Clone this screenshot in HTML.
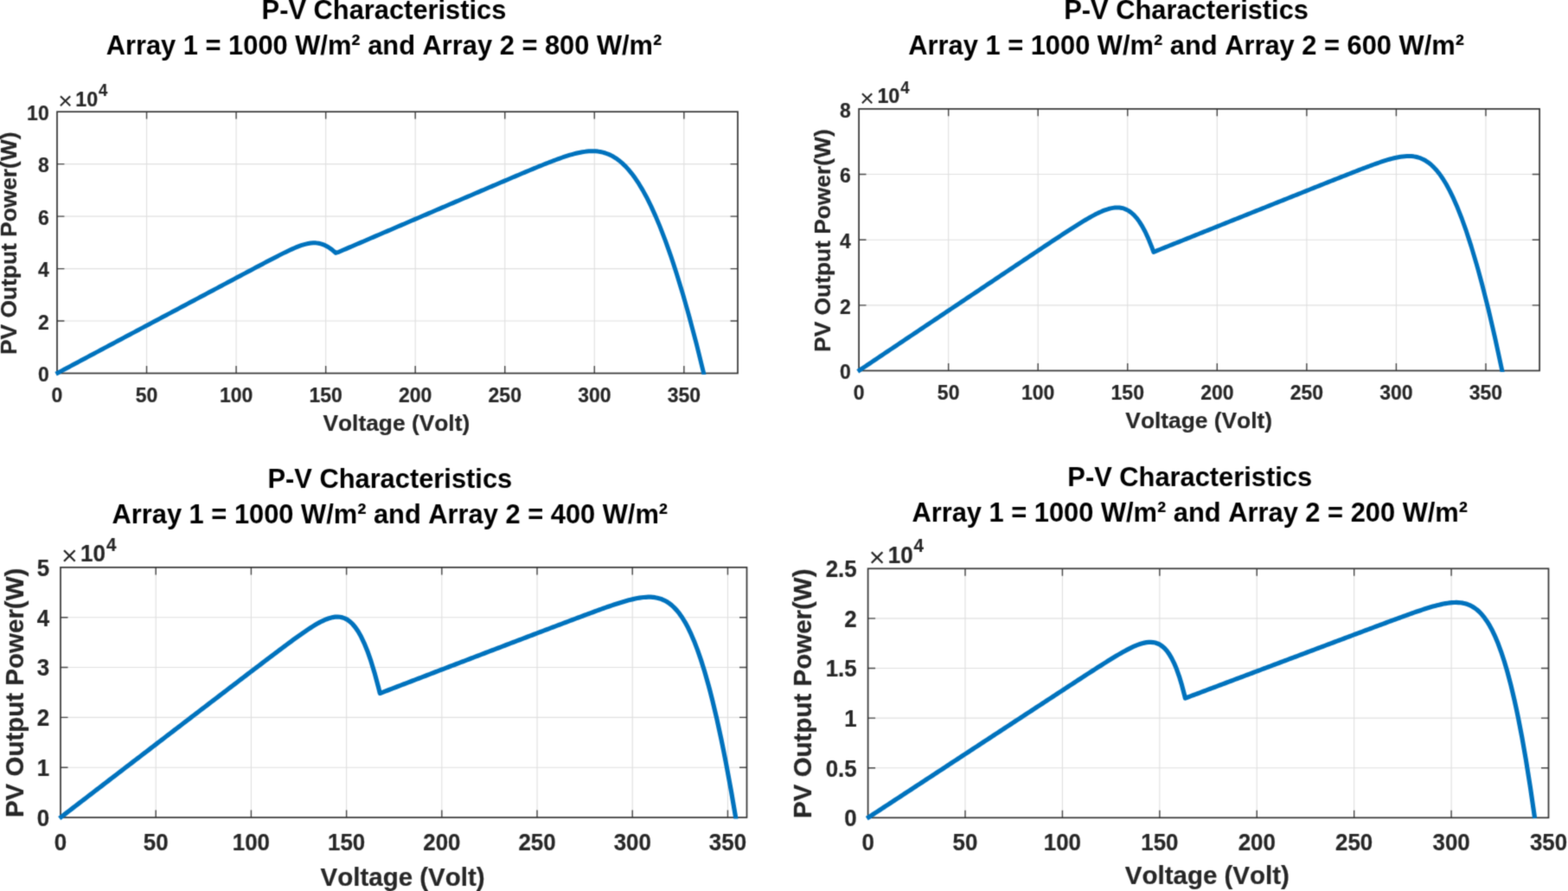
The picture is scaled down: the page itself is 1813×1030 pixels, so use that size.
<!DOCTYPE html>
<html lang="en">
<head>
<meta charset="utf-8">
<title>P-V Characteristics under partial shading</title>
<style>
html,body{margin:0;padding:0;background:#fff;}
body{width:1813px;height:1030px;overflow:hidden;}
svg{display:block;}
text{font-family:"Liberation Sans", sans-serif;font-kerning:none;fill:#262626;}
.tt{font-size:30.85px;font-weight:bold;fill:#000;}
.gr{stroke:#dfdfdf;stroke-width:1.1;fill:none;}
.ax{stroke:#333333;stroke-width:1.7;fill:none;}
.tc{stroke:#444444;stroke-width:1.4;fill:none;}
.cv{stroke:#0072bd;fill:none;stroke-linejoin:round;stroke-linecap:butt;}
#plot1 .tk{font-size:23px;font-weight:bold;}
.tk,.lb,.ex,.sp{stroke:#262626;stroke-width:0.2;stroke-linejoin:round;}
#plot1 .lb{font-size:26.35px;font-weight:bold;}
#plot1 .ex{font-size:23.3px;font-weight:bold;}
#plot1 .sp{font-size:18.5px;font-weight:bold;}
#plot1 .tm{font-size:28.5px;}
#plot1 .cv{stroke-width:5;}
#plot2 .tk{font-size:23px;font-weight:bold;}
#plot2 .lb{font-size:26.35px;font-weight:bold;}
#plot2 .ex{font-size:23.3px;font-weight:bold;}
#plot2 .sp{font-size:18.5px;font-weight:bold;}
#plot2 .tm{font-size:28.5px;}
#plot2 .cv{stroke-width:5;}
#plot3 .tk{font-size:25.9px;font-weight:bold;}
#plot3 .lb{font-size:29.5px;font-weight:bold;}
#plot3 .ex{font-size:26px;font-weight:bold;}
#plot3 .sp{font-size:20.6px;font-weight:bold;}
#plot3 .tm{font-size:32px;}
#plot3 .cv{stroke-width:5.2;}
#plot4 .tk{font-size:25.9px;font-weight:bold;}
#plot4 .lb{font-size:29.5px;font-weight:bold;}
#plot4 .ex{font-size:26px;font-weight:bold;}
#plot4 .sp{font-size:20.6px;font-weight:bold;}
#plot4 .tm{font-size:32px;}
#plot4 .cv{stroke-width:5.2;}
</style>
</head>
<body>
<svg width="1813" height="1030" viewBox="0 0 1813 1030">
<defs><filter id="soft" x="0" y="0" width="1813" height="1030" filterUnits="userSpaceOnUse" color-interpolation-filters="sRGB"><feConvolveMatrix order="3" kernelMatrix="0.0289 0.1122 0.0289 0.1122 0.4356 0.1122 0.0289 0.1122 0.0289" edgeMode="duplicate" preserveAlpha="false"/></filter></defs>
<rect x="0" y="0" width="1813" height="1030" fill="#ffffff"/>
<g filter="url(#soft)">
<g id="plot1">
<text class="tt" text-anchor="middle" transform="translate(444 21.6) scale(1 1.03)">P-V Characteristics</text>
<text class="tt" text-anchor="middle" transform="translate(444 62.8) scale(1 1.03)">Array 1 = 1000 W/m² and Array 2 = 800 W/m²</text>
<path class="gr" d="M169.55 129.2 V431.5 M273.11 129.2 V431.5 M376.66 129.2 V431.5 M480.21 129.2 V431.5 M583.76 129.2 V431.5 M687.32 129.2 V431.5 M790.87 129.2 V431.5 M66 371.04 H853 M66 310.58 H853 M66 250.12 H853 M66 189.66 H853"/>
<clipPath id="cp1"><rect x="60" y="129.2" width="793" height="303.7"/><rect x="60" y="426.5" width="14" height="10"/></clipPath>
<path class="tc" d="M169.55 431.5 v-8.4 M169.55 129.2 v8.4 M273.11 431.5 v-8.4 M273.11 129.2 v8.4 M376.66 431.5 v-8.4 M376.66 129.2 v8.4 M480.21 431.5 v-8.4 M480.21 129.2 v8.4 M583.76 431.5 v-8.4 M583.76 129.2 v8.4 M687.32 431.5 v-8.4 M687.32 129.2 v8.4 M790.87 431.5 v-8.4 M790.87 129.2 v8.4 M66 371.04 h8.4 M853 371.04 h-8.4 M66 310.58 h8.4 M853 310.58 h-8.4 M66 250.12 h8.4 M853 250.12 h-8.4 M66 189.66 h8.4 M853 189.66 h-8.4"/>
<rect class="ax" x="66" y="129.2" width="787" height="302.3"/>
<path class="cv" clip-path="url(#cp1)" d="M64.59 432.25 L66.99 430.97 L69.45 429.66 L71.9 428.35 L74.36 427.04 L76.82 425.73 L79.28 424.42 L81.74 423.12 L84.2 421.81 L86.66 420.5 L89.12 419.19 L91.58 417.88 L94.03 416.57 L96.49 415.26 L98.95 413.95 L101.41 412.64 L103.87 411.33 L106.33 410.02 L108.79 408.71 L111.25 407.4 L113.71 406.09 L116.16 404.78 L118.62 403.47 L121.08 402.16 L123.54 400.85 L126 399.55 L128.46 398.24 L130.92 396.93 L133.38 395.62 L135.84 394.31 L138.29 393 L140.75 391.69 L143.21 390.38 L145.67 389.07 L148.13 387.76 L150.59 386.46 L153.05 385.15 L155.51 383.84 L157.97 382.53 L160.42 381.22 L162.88 379.91 L165.34 378.6 L167.8 377.3 L170.26 375.99 L172.72 374.68 L175.18 373.37 L177.64 372.06 L180.1 370.75 L182.56 369.45 L185.01 368.14 L187.47 366.83 L189.93 365.52 L192.39 364.21 L194.85 362.9 L197.31 361.6 L199.77 360.29 L202.23 358.98 L204.69 357.67 L207.14 356.36 L209.6 355.06 L212.06 353.75 L214.52 352.44 L216.98 351.13 L219.44 349.83 L221.9 348.52 L224.36 347.21 L226.82 345.9 L229.27 344.6 L231.73 343.29 L234.19 341.98 L236.65 340.67 L239.11 339.37 L241.57 338.06 L244.03 336.75 L246.49 335.44 L248.95 334.14 L251.4 332.83 L253.86 331.52 L256.32 330.22 L258.78 328.91 L261.24 327.6 L263.7 326.29 L266.16 324.99 L268.62 323.68 L271.08 322.37 L273.54 321.07 L276 319.76 L278.46 318.46 L280.91 317.15 L283.37 315.84 L285.83 314.54 L288.29 313.23 L290.75 311.93 L293.22 310.63 L295.68 309.32 L298.14 308.02 L300.6 306.72 L303.06 305.42 L305.53 304.12 L307.99 302.83 L310.46 301.53 L312.93 300.24 L315.4 298.96 L317.87 297.67 L320.35 296.4 L322.83 295.13 L325.31 293.88 L327.8 292.63 L330.3 291.4 L332.81 290.19 L335.33 289 L337.87 287.85 L340.42 286.72 L342.99 285.65 L345.59 284.63 L348.23 283.68 L350.9 282.82 L353.62 282.07 L356.41 281.46 L359.27 281.03 L362.22 280.81 L365.29 280.86 L368.5 281.25 L371.89 282.07 L375.49 283.43 L379.36 285.48 L383.56 288.39 L388.16 292.4 L390.69 291.71 L392.94 290.75 L395.19 289.78 L397.43 288.82 L399.68 287.85 L401.92 286.89 L404.17 285.92 L406.42 284.96 L408.66 283.99 L410.91 283.03 L413.16 282.07 L415.4 281.1 L417.65 280.14 L419.89 279.17 L422.14 278.21 L424.39 277.24 L426.63 276.28 L428.88 275.32 L431.12 274.35 L433.37 273.39 L435.62 272.42 L437.86 271.46 L440.11 270.49 L442.35 269.53 L444.6 268.57 L446.85 267.6 L449.09 266.64 L451.34 265.68 L453.59 264.71 L455.83 263.75 L458.08 262.78 L460.32 261.82 L462.57 260.86 L464.82 259.89 L467.06 258.93 L469.31 257.96 L471.55 257 L473.8 256.04 L476.05 255.07 L478.29 254.11 L480.54 253.15 L482.79 252.18 L485.03 251.22 L487.28 250.26 L489.52 249.29 L491.77 248.33 L494.02 247.37 L496.26 246.4 L498.51 245.44 L500.75 244.48 L503 243.51 L505.25 242.55 L507.49 241.59 L509.74 240.62 L511.98 239.66 L514.23 238.7 L516.48 237.74 L518.72 236.77 L520.97 235.81 L523.22 234.85 L525.46 233.88 L527.71 232.92 L529.95 231.96 L532.2 231 L534.45 230.03 L536.69 229.07 L538.94 228.11 L541.19 227.15 L543.43 226.19 L545.68 225.22 L547.93 224.26 L550.17 223.3 L552.42 222.34 L554.66 221.38 L556.91 220.41 L559.16 219.45 L561.4 218.49 L563.65 217.53 L565.9 216.57 L568.15 215.61 L570.39 214.65 L572.64 213.69 L574.89 212.73 L577.14 211.77 L579.38 210.81 L581.63 209.85 L583.88 208.89 L586.13 207.94 L588.38 206.98 L590.63 206.02 L592.88 205.07 L595.13 204.12 L597.38 203.16 L599.63 202.21 L601.88 201.26 L604.13 200.31 L606.38 199.36 L608.64 198.42 L610.89 197.47 L613.15 196.53 L615.41 195.59 L617.67 194.66 L619.93 193.73 L622.19 192.8 L624.45 191.87 L626.72 190.96 L628.99 190.04 L631.26 189.14 L633.54 188.24 L635.81 187.35 L638.1 186.46 L640.38 185.59 L642.68 184.73 L644.98 183.89 L647.28 183.06 L649.59 182.24 L651.92 181.45 L654.25 180.68 L656.59 179.93 L658.94 179.21 L661.3 178.53 L663.68 177.88 L666.08 177.27 L668.49 176.71 L670.93 176.2 L673.39 175.75 L675.87 175.37 L678.39 175.06 L680.93 174.84 L683.51 174.72 L686.13 174.72 L688.79 174.84 L691.51 175.11 L694.1 175.51 L697.1 176.16 L699.99 176.99 L702.96 178.06 L706.01 179.41 L709.14 181.07 L712.38 183.09 L715.59 185.41 L719.18 188.4 L722.77 191.82 L726.51 195.84 L730.4 200.55 L732.07 202.74 L734.46 206.05 L738.71 212.44 L743.17 219.86 L747.22 227.24 L747.86 228.45 L752.8 238.39 L758.01 249.87 L762.33 260.12 L763.54 263.11 L769.4 278.37 L775.64 295.96 L778.14 303.39 L782.29 316.23 L789.41 339.57 L795.21 359.84 L797.04 366.48 L805.25 397.48 L814.1 433.24"/>
<text class="tk" text-anchor="middle" transform="translate(66 465) scale(1 1.06)">0</text>
<text class="tk" text-anchor="middle" transform="translate(169.55 465) scale(1 1.06)">50</text>
<text class="tk" text-anchor="middle" transform="translate(273.11 465) scale(1 1.06)">100</text>
<text class="tk" text-anchor="middle" transform="translate(376.66 465) scale(1 1.06)">150</text>
<text class="tk" text-anchor="middle" transform="translate(480.21 465) scale(1 1.06)">200</text>
<text class="tk" text-anchor="middle" transform="translate(583.76 465) scale(1 1.06)">250</text>
<text class="tk" text-anchor="middle" transform="translate(687.32 465) scale(1 1.06)">300</text>
<text class="tk" text-anchor="middle" transform="translate(790.87 465) scale(1 1.06)">350</text>
<text class="tk" text-anchor="end" transform="translate(56.7 441.3) scale(1 1.06)">0</text>
<text class="tk" text-anchor="end" transform="translate(56.7 380.84) scale(1 1.06)">2</text>
<text class="tk" text-anchor="end" transform="translate(56.7 320.38) scale(1 1.06)">4</text>
<text class="tk" text-anchor="end" transform="translate(56.7 259.92) scale(1 1.06)">6</text>
<text class="tk" text-anchor="end" transform="translate(56.7 199.46) scale(1 1.06)">8</text>
<text class="tk" text-anchor="end" transform="translate(56.7 139) scale(1 1.06)">10</text>
<text class="tm" transform="translate(67.2 126)">×</text>
<text class="ex" transform="translate(87.3 122.6) scale(1 1.05)">10</text>
<text class="sp" transform="translate(114.1 111) scale(1 1.05)">4</text>
<text class="lb" text-anchor="middle" transform="translate(458.3 497.8)">Voltage (Volt)</text>
<text class="lb" text-anchor="middle" transform="translate(19.2 281.25) rotate(-90)">PV Output Power(W)</text>
</g>
<g id="plot2">
<text class="tt" text-anchor="middle" transform="translate(1371.6 21.6) scale(1 1.03)">P-V Characteristics</text>
<text class="tt" text-anchor="middle" transform="translate(1371.6 62.8) scale(1 1.03)">Array 1 = 1000 W/m² and Array 2 = 600 W/m²</text>
<path class="gr" d="M1096.65 125.9 V428.5 M1200.21 125.9 V428.5 M1303.76 125.9 V428.5 M1407.31 125.9 V428.5 M1510.86 125.9 V428.5 M1614.42 125.9 V428.5 M1717.97 125.9 V428.5 M993.1 352.85 H1780.1 M993.1 277.2 H1780.1 M993.1 201.55 H1780.1"/>
<clipPath id="cp2"><rect x="987.1" y="125.9" width="793" height="304"/><rect x="987.1" y="423.5" width="14" height="10"/></clipPath>
<path class="tc" d="M1096.65 428.5 v-8.4 M1096.65 125.9 v8.4 M1200.21 428.5 v-8.4 M1200.21 125.9 v8.4 M1303.76 428.5 v-8.4 M1303.76 125.9 v8.4 M1407.31 428.5 v-8.4 M1407.31 125.9 v8.4 M1510.86 428.5 v-8.4 M1510.86 125.9 v8.4 M1614.42 428.5 v-8.4 M1614.42 125.9 v8.4 M1717.97 428.5 v-8.4 M1717.97 125.9 v8.4 M993.1 352.85 h8.4 M1780.1 352.85 h-8.4 M993.1 277.2 h8.4 M1780.1 277.2 h-8.4 M993.1 201.55 h8.4 M1780.1 201.55 h-8.4"/>
<rect class="ax" x="993.1" y="125.9" width="787" height="302.6"/>
<path class="cv" clip-path="url(#cp2)" d="M991.77 429.39 L993.93 427.94 L996.28 426.36 L998.64 424.79 L1000.99 423.21 L1003.34 421.63 L1005.69 420.06 L1008.04 418.48 L1010.39 416.9 L1012.74 415.33 L1015.09 413.75 L1017.44 412.17 L1019.79 410.6 L1022.14 409.02 L1024.49 407.45 L1026.84 405.87 L1029.2 404.29 L1031.55 402.72 L1033.9 401.14 L1036.25 399.57 L1038.6 397.99 L1040.95 396.41 L1043.3 394.84 L1045.65 393.26 L1048 391.69 L1050.35 390.11 L1052.7 388.53 L1055.05 386.96 L1057.41 385.38 L1059.76 383.81 L1062.11 382.23 L1064.46 380.66 L1066.81 379.08 L1069.16 377.51 L1071.51 375.93 L1073.86 374.36 L1076.21 372.78 L1078.56 371.21 L1080.91 369.63 L1083.26 368.06 L1085.62 366.48 L1087.97 364.91 L1090.32 363.33 L1092.67 361.76 L1095.02 360.18 L1097.37 358.61 L1099.72 357.03 L1102.07 355.46 L1104.42 353.88 L1106.77 352.31 L1109.12 350.73 L1111.47 349.16 L1113.83 347.59 L1116.18 346.01 L1118.53 344.44 L1120.88 342.86 L1123.23 341.29 L1125.58 339.71 L1127.93 338.14 L1130.28 336.57 L1132.63 334.99 L1134.98 333.42 L1137.33 331.85 L1139.68 330.27 L1142.04 328.7 L1144.39 327.12 L1146.74 325.55 L1149.09 323.98 L1151.44 322.4 L1153.79 320.83 L1156.14 319.26 L1158.49 317.68 L1160.84 316.11 L1163.19 314.54 L1165.54 312.97 L1167.89 311.39 L1170.25 309.82 L1172.6 308.25 L1174.95 306.68 L1177.3 305.1 L1179.65 303.53 L1182 301.96 L1184.35 300.39 L1186.7 298.82 L1189.05 297.25 L1191.41 295.68 L1193.76 294.11 L1196.11 292.54 L1198.46 290.97 L1200.81 289.4 L1203.16 287.83 L1205.52 286.27 L1207.87 284.7 L1210.22 283.14 L1212.57 281.57 L1214.93 280.01 L1217.28 278.45 L1219.63 276.9 L1221.99 275.34 L1224.34 273.79 L1226.7 272.24 L1229.06 270.69 L1231.41 269.15 L1233.77 267.62 L1236.13 266.09 L1238.49 264.57 L1240.85 263.06 L1243.22 261.55 L1245.58 260.06 L1247.95 258.58 L1250.32 257.12 L1252.69 255.68 L1255.07 254.25 L1257.45 252.85 L1259.84 251.48 L1262.23 250.14 L1264.63 248.84 L1267.03 247.59 L1269.44 246.38 L1271.87 245.24 L1274.3 244.17 L1276.75 243.18 L1279.21 242.29 L1281.69 241.51 L1284.18 240.86 L1286.7 240.36 L1289.25 240.04 L1291.83 239.92 L1294.44 240.05 L1297.09 240.46 L1299.79 241.2 L1302.54 242.32 L1305.35 243.89 L1308.24 245.98 L1311.2 248.69 L1314.27 252.11 L1317.44 256.38 L1320.73 261.63 L1324.18 268.05 L1327.79 275.83 L1331.6 285.21 L1333.84 291.33 L1336.32 290.34 L1338.65 289.41 L1340.98 288.47 L1343.31 287.54 L1345.64 286.6 L1347.97 285.67 L1350.3 284.73 L1352.63 283.8 L1354.96 282.87 L1357.29 281.93 L1359.62 281 L1361.95 280.07 L1364.28 279.13 L1366.61 278.2 L1368.94 277.26 L1371.27 276.33 L1373.6 275.4 L1375.93 274.46 L1378.26 273.53 L1380.59 272.6 L1382.92 271.66 L1385.25 270.73 L1387.58 269.8 L1389.91 268.86 L1392.24 267.93 L1394.57 267 L1396.9 266.06 L1399.23 265.13 L1401.56 264.2 L1403.89 263.27 L1406.22 262.33 L1408.55 261.4 L1410.88 260.47 L1413.21 259.53 L1415.54 258.6 L1417.87 257.67 L1420.2 256.74 L1422.53 255.8 L1424.86 254.87 L1427.19 253.94 L1429.52 253.01 L1431.85 252.08 L1434.18 251.14 L1436.51 250.21 L1438.84 249.28 L1441.17 248.35 L1443.5 247.41 L1445.83 246.48 L1448.16 245.55 L1450.49 244.62 L1452.82 243.69 L1455.15 242.76 L1457.48 241.82 L1459.81 240.89 L1462.14 239.96 L1464.47 239.03 L1466.8 238.1 L1469.13 237.17 L1471.46 236.23 L1473.79 235.3 L1476.12 234.37 L1478.45 233.44 L1480.78 232.51 L1483.11 231.58 L1485.44 230.65 L1487.77 229.72 L1490.1 228.79 L1492.43 227.85 L1494.76 226.92 L1497.09 225.99 L1499.42 225.06 L1501.75 224.13 L1504.08 223.2 L1506.41 222.27 L1508.74 221.34 L1511.07 220.41 L1513.4 219.48 L1515.73 218.55 L1518.06 217.62 L1520.39 216.69 L1522.72 215.76 L1525.06 214.83 L1527.39 213.91 L1529.72 212.98 L1532.05 212.05 L1534.38 211.12 L1536.71 210.19 L1539.04 209.27 L1541.37 208.34 L1543.7 207.42 L1546.03 206.49 L1548.37 205.57 L1550.7 204.64 L1553.03 203.72 L1555.36 202.8 L1557.7 201.88 L1560.03 200.97 L1562.36 200.05 L1564.7 199.14 L1567.03 198.23 L1569.37 197.32 L1571.71 196.42 L1574.05 195.52 L1576.39 194.62 L1578.73 193.74 L1581.07 192.85 L1583.42 191.98 L1585.76 191.11 L1588.11 190.26 L1590.47 189.41 L1592.82 188.58 L1595.18 187.76 L1597.55 186.97 L1599.92 186.19 L1602.3 185.44 L1604.68 184.71 L1607.08 184.02 L1609.48 183.37 L1611.89 182.76 L1614.32 182.2 L1616.76 181.7 L1619.22 181.26 L1621.69 180.91 L1624.19 180.65 L1626.72 180.49 L1629.27 180.46 L1631.86 180.56 L1634.49 180.84 L1636.95 181.26 L1639.89 182 L1642.67 182.94 L1645.52 184.2 L1648.45 185.8 L1651.46 187.8 L1654.58 190.29 L1657.81 193.32 L1661.17 197 L1663.87 200.35 L1664.68 201.43 L1668.36 206.73 L1672.22 213.06 L1676.31 220.58 L1680.6 229.42 L1685.23 240.05 L1690.15 252.52 L1695.05 266.19 L1695.41 267.24 L1701.07 284.61 L1707.18 305.09 L1708.9 311.17 L1713.8 329.25 L1720.98 357.73 L1722.86 365.56 L1728.8 391.34 L1737.36 431.03"/>
<text class="tk" text-anchor="middle" transform="translate(993.1 462) scale(1 1.06)">0</text>
<text class="tk" text-anchor="middle" transform="translate(1096.65 462) scale(1 1.06)">50</text>
<text class="tk" text-anchor="middle" transform="translate(1200.21 462) scale(1 1.06)">100</text>
<text class="tk" text-anchor="middle" transform="translate(1303.76 462) scale(1 1.06)">150</text>
<text class="tk" text-anchor="middle" transform="translate(1407.31 462) scale(1 1.06)">200</text>
<text class="tk" text-anchor="middle" transform="translate(1510.86 462) scale(1 1.06)">250</text>
<text class="tk" text-anchor="middle" transform="translate(1614.42 462) scale(1 1.06)">300</text>
<text class="tk" text-anchor="middle" transform="translate(1717.97 462) scale(1 1.06)">350</text>
<text class="tk" text-anchor="end" transform="translate(983.8 438.3) scale(1 1.06)">0</text>
<text class="tk" text-anchor="end" transform="translate(983.8 362.65) scale(1 1.06)">2</text>
<text class="tk" text-anchor="end" transform="translate(983.8 287) scale(1 1.06)">4</text>
<text class="tk" text-anchor="end" transform="translate(983.8 211.35) scale(1 1.06)">6</text>
<text class="tk" text-anchor="end" transform="translate(983.8 135.7) scale(1 1.06)">8</text>
<text class="tm" transform="translate(994.3 122.7)">×</text>
<text class="ex" transform="translate(1014.4 119.3) scale(1 1.05)">10</text>
<text class="sp" transform="translate(1041.2 107.7) scale(1 1.05)">4</text>
<text class="lb" text-anchor="middle" transform="translate(1386.2 494.8)">Voltage (Volt)</text>
<text class="lb" text-anchor="middle" transform="translate(959.8 278.1) rotate(-90)">PV Output Power(W)</text>
</g>
<g id="plot3">
<text class="tt" text-anchor="middle" transform="translate(450.8 564.1) scale(1 1.03)">P-V Characteristics</text>
<text class="tt" text-anchor="middle" transform="translate(450.8 605.2) scale(1 1.03)">Array 1 = 1000 W/m² and Array 2 = 400 W/m²</text>
<path class="gr" d="M180.21 655.9 V945 M290.42 655.9 V945 M400.62 655.9 V945 M510.83 655.9 V945 M621.04 655.9 V945 M731.25 655.9 V945 M841.46 655.9 V945 M70 887.18 H863.5 M70 829.36 H863.5 M70 771.54 H863.5 M70 713.72 H863.5"/>
<clipPath id="cp3"><rect x="64" y="655.9" width="799.5" height="290.5"/><rect x="64" y="940" width="14" height="10"/></clipPath>
<path class="tc" d="M180.21 945 v-8.5 M180.21 655.9 v8.5 M290.42 945 v-8.5 M290.42 655.9 v8.5 M400.62 945 v-8.5 M400.62 655.9 v8.5 M510.83 945 v-8.5 M510.83 655.9 v8.5 M621.04 945 v-8.5 M621.04 655.9 v8.5 M731.25 945 v-8.5 M731.25 655.9 v8.5 M841.46 945 v-8.5 M841.46 655.9 v8.5 M70 887.18 h8.5 M863.5 887.18 h-8.5 M70 829.36 h8.5 M863.5 829.36 h-8.5 M70 771.54 h8.5 M863.5 771.54 h-8.5 M70 713.72 h8.5 M863.5 713.72 h-8.5"/>
<rect class="ax" x="70" y="655.9" width="793.5" height="289.1"/>
<path class="cv" clip-path="url(#cp3)" d="M68.73 945.97 L72.29 943.24 L74.78 941.33 L77.28 939.41 L79.77 937.5 L82.26 935.59 L84.75 933.67 L87.24 931.76 L89.73 929.85 L92.23 927.94 L94.72 926.02 L97.21 924.11 L99.7 922.2 L102.19 920.29 L104.69 918.38 L107.18 916.46 L109.67 914.55 L112.16 912.64 L114.65 910.73 L117.15 908.82 L119.64 906.91 L122.13 905 L124.62 903.09 L127.11 901.17 L129.6 899.26 L132.1 897.35 L134.59 895.44 L137.08 893.53 L139.57 891.62 L142.06 889.71 L144.56 887.8 L147.05 885.89 L149.54 883.99 L152.03 882.08 L154.52 880.17 L157.01 878.26 L159.51 876.35 L162 874.44 L164.49 872.53 L166.98 870.62 L169.47 868.72 L171.97 866.81 L174.46 864.9 L176.95 862.99 L179.44 861.08 L181.93 859.18 L184.43 857.27 L186.92 855.36 L189.41 853.45 L191.9 851.55 L194.39 849.64 L196.88 847.73 L199.38 845.83 L201.87 843.92 L204.36 842.01 L206.85 840.11 L209.34 838.2 L211.84 836.3 L214.33 834.39 L216.82 832.48 L219.31 830.58 L221.8 828.67 L224.29 826.77 L226.79 824.86 L229.28 822.96 L231.77 821.05 L234.26 819.15 L236.75 817.24 L239.25 815.34 L241.74 813.44 L244.23 811.53 L246.72 809.63 L249.21 807.72 L251.71 805.82 L254.2 803.92 L256.69 802.01 L259.18 800.11 L261.67 798.21 L264.17 796.3 L266.66 794.4 L269.15 792.5 L271.64 790.6 L274.13 788.7 L276.63 786.8 L279.12 784.89 L281.61 782.99 L284.1 781.09 L286.59 779.19 L289.09 777.29 L291.58 775.4 L294.07 773.5 L296.56 771.6 L299.06 769.7 L301.55 767.81 L304.04 765.91 L306.54 764.02 L309.03 762.13 L311.52 760.24 L314.02 758.35 L316.51 756.47 L319.01 754.58 L321.5 752.71 L324 750.83 L326.49 748.96 L328.99 747.09 L331.49 745.24 L333.99 743.38 L336.49 741.54 L338.99 739.71 L341.5 737.89 L344 736.08 L346.51 734.29 L349.02 732.52 L351.53 730.77 L354.05 729.05 L356.57 727.37 L359.1 725.72 L361.63 724.11 L364.17 722.56 L366.72 721.06 L369.28 719.65 L371.85 718.31 L374.43 717.08 L377.03 715.96 L379.64 714.99 L382.28 714.18 L384.93 713.56 L387.62 713.17 L390.34 713.06 L393.1 713.26 L395.9 713.83 L398.75 714.86 L401.67 716.4 L404.65 718.57 L407.72 721.47 L410.89 725.24 L414.16 730.03 L417.57 736.05 L421.13 743.52 L424.88 752.71 L428.83 763.95 L433.03 777.65 L437.51 794.27 L439.3 801.48 L440.55 801 L442.98 800.07 L445.4 799.14 L447.83 798.21 L450.25 797.27 L452.68 796.34 L455.1 795.41 L457.53 794.48 L459.95 793.55 L462.38 792.62 L464.8 791.69 L467.23 790.75 L469.65 789.82 L472.08 788.89 L474.5 787.96 L476.93 787.03 L479.35 786.1 L481.78 785.17 L484.2 784.24 L486.63 783.31 L489.05 782.38 L491.48 781.45 L493.9 780.52 L496.33 779.59 L498.75 778.66 L501.18 777.73 L503.6 776.8 L506.03 775.87 L508.45 774.94 L510.88 774.02 L513.3 773.09 L515.73 772.16 L518.15 771.23 L520.58 770.3 L523 769.37 L525.43 768.45 L527.85 767.52 L530.28 766.59 L532.71 765.66 L535.13 764.74 L537.56 763.81 L539.98 762.88 L542.41 761.95 L544.83 761.03 L547.26 760.1 L549.68 759.17 L552.11 758.25 L554.53 757.32 L556.96 756.39 L559.38 755.47 L561.81 754.54 L564.23 753.62 L566.66 752.69 L569.08 751.76 L571.51 750.84 L573.93 749.91 L576.36 748.99 L578.78 748.06 L581.21 747.14 L583.63 746.21 L586.06 745.29 L588.48 744.36 L590.91 743.44 L593.33 742.52 L595.76 741.59 L598.18 740.67 L600.61 739.74 L603.03 738.82 L605.46 737.9 L607.88 736.97 L610.31 736.05 L612.73 735.13 L615.16 734.21 L617.59 733.28 L620.01 732.36 L622.44 731.44 L624.86 730.52 L627.29 729.6 L629.71 728.67 L632.14 727.75 L634.56 726.83 L636.99 725.91 L639.41 724.99 L641.84 724.07 L644.26 723.15 L646.69 722.24 L649.12 721.32 L651.54 720.4 L653.97 719.48 L656.39 718.57 L658.82 717.65 L661.25 716.74 L663.67 715.82 L666.1 714.91 L668.53 714 L670.95 713.09 L673.38 712.19 L675.81 711.28 L678.24 710.38 L680.66 709.48 L683.09 708.58 L685.52 707.69 L687.95 706.79 L690.38 705.91 L692.82 705.03 L695.25 704.15 L697.68 703.28 L700.12 702.42 L702.55 701.56 L704.99 700.72 L707.43 699.89 L709.87 699.06 L712.31 698.26 L714.76 697.46 L717.21 696.69 L719.66 695.94 L722.12 695.21 L724.58 694.51 L727.04 693.84 L729.51 693.2 L731.99 692.6 L734.47 692.06 L736.97 691.56 L739.47 691.13 L741.98 690.76 L744.5 690.47 L747.04 690.28 L749.6 690.19 L752.17 690.21 L754.76 690.38 L757.37 690.7 L760.01 691.19 L762.68 691.89 L765.38 692.82 L768.12 694.02 L770.9 695.53 L773.73 697.39 L776.62 699.64 L779.56 702.36 L782.58 705.61 L785.67 709.46 L788.85 714 L792.13 719.34 L795.53 725.6 L799.04 732.91 L802.7 741.43 L806.51 751.34 L810.5 762.85 L814.69 776.2 L819.1 791.68 L820.67 797.54 L823.75 809.62 L828.68 830.38 L833.91 854.42 L836.47 866.96 L839.48 882.25 L845.43 914.46 L851.8 951.75"/>
<text class="tk" text-anchor="middle" transform="translate(70 983) scale(1 1.09)">0</text>
<text class="tk" text-anchor="middle" transform="translate(180.21 983) scale(1 1.09)">50</text>
<text class="tk" text-anchor="middle" transform="translate(290.42 983) scale(1 1.09)">100</text>
<text class="tk" text-anchor="middle" transform="translate(400.62 983) scale(1 1.09)">150</text>
<text class="tk" text-anchor="middle" transform="translate(510.83 983) scale(1 1.09)">200</text>
<text class="tk" text-anchor="middle" transform="translate(621.04 983) scale(1 1.09)">250</text>
<text class="tk" text-anchor="middle" transform="translate(731.25 983) scale(1 1.09)">300</text>
<text class="tk" text-anchor="middle" transform="translate(841.46 983) scale(1 1.09)">350</text>
<text class="tk" text-anchor="end" transform="translate(57.1 954.9) scale(1 1.09)">0</text>
<text class="tk" text-anchor="end" transform="translate(57.1 897.08) scale(1 1.09)">1</text>
<text class="tk" text-anchor="end" transform="translate(57.1 839.26) scale(1 1.09)">2</text>
<text class="tk" text-anchor="end" transform="translate(57.1 781.44) scale(1 1.09)">3</text>
<text class="tk" text-anchor="end" transform="translate(57.1 723.62) scale(1 1.09)">4</text>
<text class="tk" text-anchor="end" transform="translate(57.1 665.8) scale(1 1.09)">5</text>
<text class="tm" transform="translate(71.1 652.9)">×</text>
<text class="ex" transform="translate(93.1 649.1) scale(1 1.05)">10</text>
<text class="sp" transform="translate(123 636.5) scale(1 1.05)">4</text>
<text class="lb" text-anchor="middle" transform="translate(465.55 1023.9)">Voltage (Volt)</text>
<text class="lb" text-anchor="middle" transform="translate(26.5 800.85) rotate(-90)">PV Output Power(W)</text>
</g>
<g id="plot4">
<text class="tt" text-anchor="middle" transform="translate(1375.7 562.2) scale(1 1.03)">P-V Characteristics</text>
<text class="tt" text-anchor="middle" transform="translate(1375.7 603.2) scale(1 1.03)">Array 1 = 1000 W/m² and Array 2 = 200 W/m²</text>
<path class="gr" d="M1116.01 657.3 V945.3 M1228.43 657.3 V945.3 M1340.84 657.3 V945.3 M1453.26 657.3 V945.3 M1565.67 657.3 V945.3 M1678.09 657.3 V945.3 M1003.6 887.7 H1790.5 M1003.6 830.1 H1790.5 M1003.6 772.5 H1790.5 M1003.6 714.9 H1790.5"/>
<clipPath id="cp4"><rect x="997.6" y="657.3" width="792.9" height="289.4"/><rect x="997.6" y="940.3" width="14" height="10"/></clipPath>
<path class="tc" d="M1116.01 945.3 v-8.5 M1116.01 657.3 v8.5 M1228.43 945.3 v-8.5 M1228.43 657.3 v8.5 M1340.84 945.3 v-8.5 M1340.84 657.3 v8.5 M1453.26 945.3 v-8.5 M1453.26 657.3 v8.5 M1565.67 945.3 v-8.5 M1565.67 657.3 v8.5 M1678.09 945.3 v-8.5 M1678.09 657.3 v8.5 M1003.6 887.7 h8.5 M1790.5 887.7 h-8.5 M1003.6 830.1 h8.5 M1790.5 830.1 h-8.5 M1003.6 772.5 h8.5 M1790.5 772.5 h-8.5 M1003.6 714.9 h8.5 M1790.5 714.9 h-8.5"/>
<rect class="ax" x="1003.6" y="657.3" width="786.9" height="288"/>
<path class="cv" clip-path="url(#cp4)" d="M1002.26 946.18 L1004.81 944.5 L1007.26 942.9 L1009.71 941.3 L1012.15 939.7 L1014.6 938.1 L1017.04 936.5 L1019.49 934.89 L1021.93 933.29 L1024.38 931.69 L1026.82 930.09 L1029.27 928.49 L1031.71 926.89 L1034.16 925.28 L1036.6 923.68 L1039.05 922.08 L1041.49 920.48 L1043.94 918.88 L1046.38 917.28 L1048.83 915.67 L1051.27 914.07 L1053.72 912.47 L1056.16 910.87 L1058.61 909.27 L1061.05 907.67 L1063.5 906.07 L1065.94 904.46 L1068.39 902.86 L1070.83 901.26 L1073.28 899.66 L1075.72 898.06 L1078.17 896.46 L1080.61 894.86 L1083.06 893.25 L1085.51 891.65 L1087.95 890.05 L1090.4 888.45 L1092.84 886.85 L1095.29 885.25 L1097.73 883.65 L1100.18 882.05 L1102.62 880.44 L1105.07 878.84 L1107.51 877.24 L1109.96 875.64 L1112.4 874.04 L1114.85 872.44 L1117.29 870.84 L1119.74 869.24 L1122.18 867.63 L1124.63 866.03 L1127.07 864.43 L1129.52 862.83 L1131.96 861.23 L1134.41 859.63 L1136.85 858.03 L1139.3 856.43 L1141.74 854.83 L1144.19 853.23 L1146.63 851.62 L1149.08 850.02 L1151.52 848.42 L1153.97 846.82 L1156.41 845.22 L1158.86 843.62 L1161.31 842.02 L1163.75 840.42 L1166.2 838.82 L1168.64 837.22 L1171.09 835.62 L1173.53 834.01 L1175.98 832.41 L1178.42 830.81 L1180.87 829.21 L1183.31 827.61 L1185.76 826.01 L1188.2 824.41 L1190.65 822.81 L1193.09 821.21 L1195.54 819.61 L1197.98 818.01 L1200.43 816.41 L1202.87 814.81 L1205.32 813.21 L1207.76 811.61 L1210.21 810.01 L1212.65 808.41 L1215.1 806.81 L1217.54 805.21 L1219.99 803.61 L1222.44 802.01 L1224.88 800.41 L1227.33 798.81 L1229.77 797.22 L1232.22 795.62 L1234.66 794.02 L1237.11 792.42 L1239.55 790.83 L1242 789.23 L1244.44 787.64 L1246.89 786.05 L1249.34 784.46 L1251.78 782.87 L1254.23 781.28 L1256.67 779.69 L1259.12 778.11 L1261.57 776.53 L1264.01 774.95 L1266.46 773.38 L1268.91 771.81 L1271.36 770.24 L1273.81 768.69 L1276.25 767.14 L1278.7 765.6 L1281.15 764.06 L1283.61 762.54 L1286.06 761.04 L1288.51 759.55 L1290.96 758.08 L1293.42 756.62 L1295.88 755.2 L1298.34 753.8 L1300.8 752.44 L1303.26 751.12 L1305.73 749.85 L1308.2 748.63 L1310.68 747.48 L1313.16 746.4 L1315.64 745.41 L1318.13 744.52 L1320.63 743.75 L1323.14 743.12 L1325.65 742.66 L1328.18 742.38 L1330.72 742.33 L1333.28 742.54 L1335.86 743.06 L1338.45 743.93 L1341.07 745.21 L1343.72 746.99 L1346.4 749.33 L1349.11 752.34 L1351.87 756.13 L1354.68 760.83 L1357.55 766.59 L1360.48 773.61 L1363.5 782.1 L1366.6 792.31 L1369.81 804.53 L1370.43 807.12 L1372.79 806.24 L1375.19 805.33 L1377.6 804.43 L1380 803.52 L1382.4 802.62 L1384.81 801.71 L1387.21 800.81 L1389.62 799.91 L1392.02 799 L1394.42 798.1 L1396.83 797.19 L1399.23 796.29 L1401.64 795.38 L1404.04 794.48 L1406.44 793.58 L1408.85 792.67 L1411.25 791.77 L1413.66 790.86 L1416.06 789.96 L1418.46 789.05 L1420.87 788.15 L1423.27 787.25 L1425.68 786.34 L1428.08 785.44 L1430.48 784.53 L1432.89 783.63 L1435.29 782.72 L1437.7 781.82 L1440.1 780.92 L1442.5 780.01 L1444.91 779.11 L1447.31 778.2 L1449.72 777.3 L1452.12 776.4 L1454.52 775.49 L1456.93 774.59 L1459.33 773.68 L1461.74 772.78 L1464.14 771.88 L1466.54 770.97 L1468.95 770.07 L1471.35 769.16 L1473.76 768.26 L1476.16 767.36 L1478.56 766.45 L1480.97 765.55 L1483.37 764.64 L1485.78 763.74 L1488.18 762.84 L1490.58 761.93 L1492.99 761.03 L1495.39 760.13 L1497.8 759.22 L1500.2 758.32 L1502.6 757.41 L1505.01 756.51 L1507.41 755.61 L1509.82 754.7 L1512.22 753.8 L1514.62 752.9 L1517.03 751.99 L1519.43 751.09 L1521.84 750.18 L1524.24 749.28 L1526.64 748.38 L1529.05 747.47 L1531.45 746.57 L1533.86 745.67 L1536.26 744.76 L1538.66 743.86 L1541.07 742.96 L1543.47 742.05 L1545.88 741.15 L1548.28 740.25 L1550.68 739.34 L1553.09 738.44 L1555.49 737.54 L1557.9 736.64 L1560.3 735.73 L1562.71 734.83 L1565.11 733.93 L1567.51 733.03 L1569.92 732.12 L1572.32 731.22 L1574.73 730.32 L1577.13 729.42 L1579.54 728.52 L1581.94 727.62 L1584.34 726.72 L1586.75 725.82 L1589.15 724.92 L1591.56 724.02 L1593.96 723.12 L1596.37 722.23 L1598.77 721.33 L1601.18 720.44 L1603.58 719.54 L1605.99 718.65 L1608.4 717.76 L1610.8 716.87 L1613.21 715.98 L1615.62 715.1 L1618.02 714.22 L1620.43 713.34 L1622.84 712.47 L1625.25 711.59 L1627.66 710.73 L1630.07 709.87 L1632.48 709.02 L1634.89 708.17 L1637.31 707.33 L1639.72 706.5 L1642.14 705.68 L1644.56 704.88 L1646.98 704.09 L1649.4 703.31 L1651.83 702.56 L1654.25 701.82 L1656.69 701.11 L1659.12 700.43 L1661.56 699.78 L1664.01 699.17 L1666.46 698.6 L1668.92 698.08 L1671.38 697.61 L1673.86 697.21 L1676.34 696.88 L1678.84 696.64 L1681.35 696.49 L1683.87 696.45 L1686.41 696.54 L1688.97 696.78 L1691.55 697.18 L1694.15 697.78 L1696.78 698.59 L1699.44 699.66 L1702.13 701.02 L1704.87 702.71 L1707.64 704.78 L1710.47 707.29 L1713.35 710.3 L1716.3 713.9 L1719.31 718.16 L1722.4 723.19 L1725.57 729.09 L1728.08 734.33 L1728.84 736.02 L1732.21 744.11 L1735.7 753.54 L1739.32 764.52 L1741.85 772.95 L1743.08 777.29 L1746.99 792.12 L1751.07 809.32 L1753.49 820.41 L1755.33 829.26 L1759.8 852.36 L1764.23 877.61 L1764.49 879.13 L1769.42 910.11 L1774.62 945.99"/>
<text class="tk" text-anchor="middle" transform="translate(1003.6 983.3) scale(1 1.09)">0</text>
<text class="tk" text-anchor="middle" transform="translate(1116.01 983.3) scale(1 1.09)">50</text>
<text class="tk" text-anchor="middle" transform="translate(1228.43 983.3) scale(1 1.09)">100</text>
<text class="tk" text-anchor="middle" transform="translate(1340.84 983.3) scale(1 1.09)">150</text>
<text class="tk" text-anchor="middle" transform="translate(1453.26 983.3) scale(1 1.09)">200</text>
<text class="tk" text-anchor="middle" transform="translate(1565.67 983.3) scale(1 1.09)">250</text>
<text class="tk" text-anchor="middle" transform="translate(1678.09 983.3) scale(1 1.09)">300</text>
<text class="tk" text-anchor="middle" transform="translate(1790.5 983.3) scale(1 1.09)">350</text>
<text class="tk" text-anchor="end" transform="translate(990.7 955.2) scale(1 1.09)">0</text>
<text class="tk" text-anchor="end" transform="translate(990.7 897.6) scale(1 1.09)">0.5</text>
<text class="tk" text-anchor="end" transform="translate(990.7 840) scale(1 1.09)">1</text>
<text class="tk" text-anchor="end" transform="translate(990.7 782.4) scale(1 1.09)">1.5</text>
<text class="tk" text-anchor="end" transform="translate(990.7 724.8) scale(1 1.09)">2</text>
<text class="tk" text-anchor="end" transform="translate(990.7 667.2) scale(1 1.09)">2.5</text>
<text class="tm" transform="translate(1004.7 654.6)">×</text>
<text class="ex" transform="translate(1026.7 650.8) scale(1 1.05)">10</text>
<text class="sp" transform="translate(1056.6 638.2) scale(1 1.05)">4</text>
<text class="lb" text-anchor="middle" transform="translate(1395.85 1022.4)">Voltage (Volt)</text>
<text class="lb" text-anchor="middle" transform="translate(938.4 801.7) rotate(-90)">PV Output Power(W)</text>
</g>
</g>
</svg>
</body>
</html>
